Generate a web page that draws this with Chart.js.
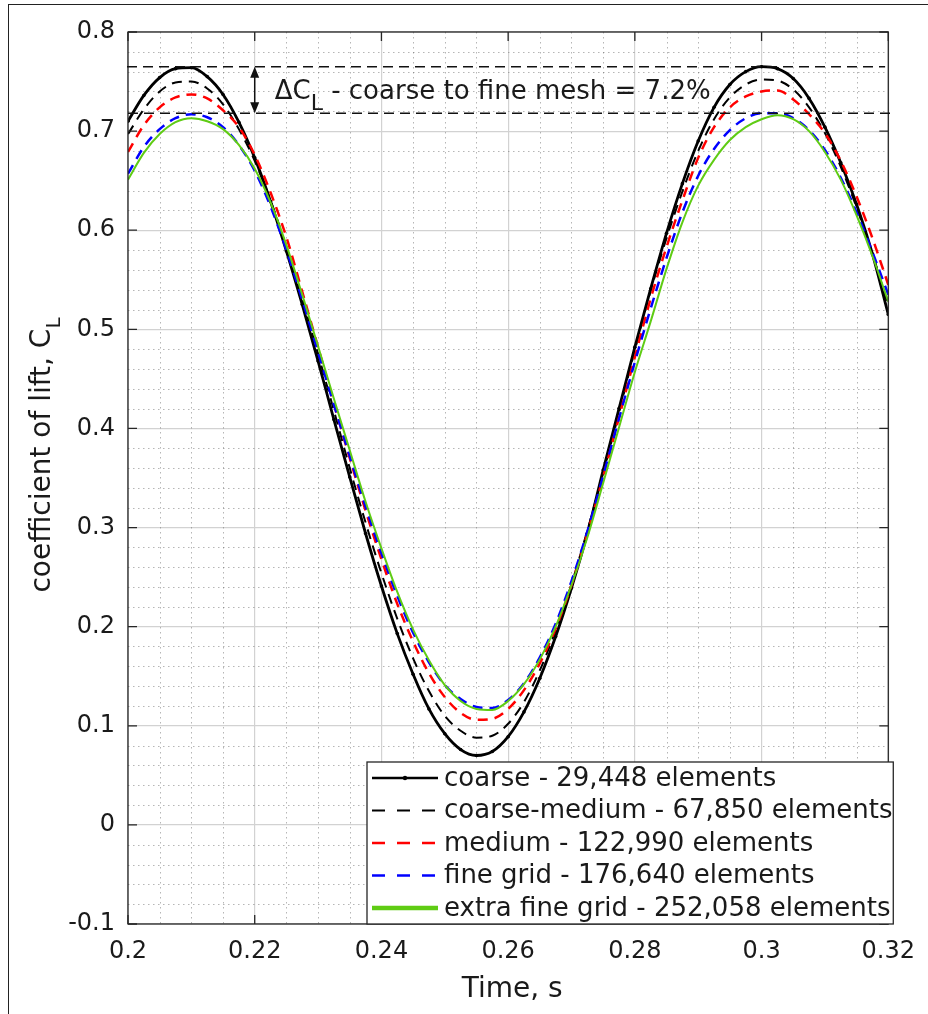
<!DOCTYPE html>
<html>
<head>
<meta charset="utf-8">
<script src="https://cdn.jsdelivr.net/npm/chart.js@4.4.0/dist/chart.umd.min.js"></script>
<style>
html,body{margin:0;padding:0;background:#fff;}
#wrap{position:relative;width:928px;height:1014px;overflow:hidden;background:#fff;}
#frame{position:absolute;left:8px;top:4px;width:1000px;height:1100px;border-left:1.5px solid #222;border-top:1.5px solid #222;box-sizing:border-box;pointer-events:none;}
canvas{position:absolute;left:0;top:0;}
</style>
</head>
<body>
<div id="wrap"><canvas id="c" width="928" height="1014"></canvas><div id="frame"></div></div>
<script>
// ---- data ----
const time = [0.2,0.2025,0.205,0.2075,0.21,0.2125,0.215,0.2175,0.22,0.2225,0.225,0.2275,0.23,0.2325,0.235,0.2375,0.24,0.2425,0.245,0.2475,0.25,0.2525,0.255,0.2575,0.26,0.2625,0.265,0.2675,0.27,0.2725,0.275,0.2775,0.28,0.2825,0.285,0.2875,0.29,0.2925,0.295,0.2975,0.3,0.3025,0.305,0.3075,0.31,0.3125,0.315,0.3175,0.32];
const coarse = [0.710,0.736,0.754,0.763,0.764,0.755,0.737,0.709,0.673,0.629,0.579,0.525,0.468,0.409,0.351,0.294,0.241,0.193,0.152,0.117,0.092,0.076,0.070,0.074,0.089,0.114,0.148,0.190,0.239,0.294,0.358,0.420,0.482,0.541,0.597,0.647,0.690,0.724,0.747,0.760,0.765,0.763,0.753,0.733,0.704,0.668,0.626,0.576,0.515];
const coarseMedium = [0.697,0.722,0.740,0.749,0.750,0.743,0.727,0.702,0.670,0.630,0.583,0.531,0.475,0.418,0.360,0.305,0.254,0.208,0.168,0.135,0.110,0.095,0.088,0.090,0.102,0.124,0.156,0.196,0.243,0.297,0.355,0.416,0.479,0.539,0.592,0.639,0.680,0.712,0.734,0.747,0.752,0.751,0.742,0.724,0.698,0.664,0.623,0.576,0.524];
const medium = [0.679,0.706,0.724,0.734,0.737,0.733,0.721,0.704,0.676,0.638,0.593,0.538,0.482,0.425,0.370,0.317,0.268,0.223,0.185,0.153,0.129,0.113,0.106,0.107,0.117,0.136,0.163,0.198,0.242,0.294,0.351,0.411,0.472,0.531,0.583,0.630,0.673,0.704,0.724,0.735,0.740,0.741,0.732,0.717,0.698,0.670,0.634,0.592,0.545];
const fine = [0.657,0.684,0.702,0.713,0.717,0.714,0.704,0.686,0.660,0.624,0.580,0.530,0.477,0.424,0.372,0.321,0.274,0.231,0.194,0.164,0.141,0.127,0.119,0.118,0.126,0.143,0.169,0.203,0.246,0.296,0.352,0.410,0.467,0.521,0.572,0.618,0.655,0.682,0.701,0.713,0.718,0.718,0.713,0.701,0.681,0.653,0.618,0.578,0.535];
const extraFine = [0.651,0.678,0.697,0.709,0.713,0.710,0.702,0.686,0.662,0.628,0.585,0.535,0.483,0.430,0.378,0.326,0.279,0.235,0.197,0.166,0.141,0.125,0.117,0.116,0.125,0.142,0.167,0.200,0.242,0.290,0.345,0.401,0.457,0.508,0.561,0.608,0.645,0.671,0.691,0.704,0.712,0.716,0.712,0.700,0.679,0.651,0.615,0.574,0.528];
const seriesNames = ["coarse - 29,448 elements","coarse-medium - 67,850 elements","medium - 122,990 elements","fine grid - 176,640 elements","extra fine grid - 252,058 elements"];
const xTicks = [0.2,0.22,0.24,0.26,0.28,0.3,0.32];
const yTicks = [-0.1,0,0.1,0.2,0.3,0.4,0.5,0.6,0.7,0.8];
const refLevels = [0.765,0.718];     // dashed delta lines
const arrowTime = 0.22;
const noteText = " - coarse to fine mesh = 7.2%";
const xTitle = "Time, s";
const yTitle = "coefficient of lift, C";

const FONT = "'DejaVu Sans', 'Liberation Sans', sans-serif";
const pts = arr => time.map((t,i)=>({x:t,y:arr[i]}));

const styles = [
  {color:'#000000', width:2.8, dash:[], legDash:[], legWidth:2.5, marker:true},
  {color:'#000000', width:2, dash:[10,7], legDash:[13,12], legWidth:2, marker:false},
  {color:'#ff0000', width:2.5, dash:[10,7], legDash:[13,12], legWidth:2.5, marker:false},
  {color:'#0000ff', width:2.5, dash:[10,7], legDash:[13,12], legWidth:2.5, marker:false},
  {color:'#5fcc14', width:2, dash:[], legDash:[], legWidth:4.5, marker:false}
];
const seriesData = [coarse, coarseMedium, medium, fine, extraFine];

const datasets = seriesData.map((arr,i)=>({
  label: seriesNames[i],
  data: pts(arr),
  borderColor: styles[i].color,
  backgroundColor: styles[i].color,
  borderWidth: styles[i].width,
  borderDash: styles[i].dash,
  pointRadius: styles[i].marker ? 1.8 : 0,
  pointBorderWidth: 0,
  pointBackgroundColor: styles[i].color,
  cubicInterpolationMode: 'monotone',
  fill: false,
  order: 5 - i
}));

function drawSubText(ctx, x, y, main, sub, size, subSize, subDrop){
  ctx.font = size + "px " + FONT;
  ctx.fillText(main, x, y);
  const w = ctx.measureText(main).width;
  ctx.font = subSize + "px " + FONT;
  ctx.fillText(sub, x + w, y + subDrop);
  return w + ctx.measureText(sub).width;
}

const deco = {
  id: 'deco',
  beforeDatasetsDraw(chart){
    const {ctx, chartArea:a, scales:{x, y}} = chart;
    ctx.save();
    ctx.beginPath(); ctx.rect(a.left, a.top, a.right-a.left, a.bottom-a.top); ctx.clip();
    ctx.strokeStyle = 'rgba(110,110,110,0.5)';
    ctx.lineWidth = 1;
    ctx.setLineDash([1.5,3.5]);
    for (let k=1; k<24; k++){
      if (k%4===0) continue;
      const px = Math.round(x.getPixelForValue(0.2 + k*0.005)) + 0.5;
      ctx.beginPath(); ctx.moveTo(px, a.top); ctx.lineTo(px, a.bottom); ctx.stroke();
    }
    for (let k=1; k<45; k++){
      if (k%5===0) continue;
      const py = Math.round(y.getPixelForValue(-0.1 + k*0.02)) + 0.5;
      ctx.beginPath(); ctx.moveTo(a.left, py); ctx.lineTo(a.right, py); ctx.stroke();
    }
    ctx.restore();
  },
  afterDatasetsDraw(chart){
    const {ctx, chartArea:a, scales:{x, y}} = chart;
    ctx.save();
    // axes box
    ctx.setLineDash([]);
    ctx.strokeStyle = '#262626';
    ctx.lineWidth = 1.3;
    ctx.strokeRect(a.left, a.top, a.right-a.left, a.bottom-a.top);
    // inward ticks
    ctx.beginPath();
    xTicks.forEach(v=>{
      const px = x.getPixelForValue(v);
      ctx.moveTo(px, a.bottom); ctx.lineTo(px, a.bottom-9);
      ctx.moveTo(px, a.top); ctx.lineTo(px, a.top+9);
    });
    yTicks.forEach(v=>{
      const py = y.getPixelForValue(v);
      ctx.moveTo(a.left, py); ctx.lineTo(a.left+9, py);
      ctx.moveTo(a.right, py); ctx.lineTo(a.right-9, py);
    });
    ctx.stroke();
    // dashed reference lines
    ctx.strokeStyle = '#111';
    ctx.lineWidth = 1.5;
    ctx.setLineDash([10,6]);
    const yTop = y.getPixelForValue(refLevels[0]);
    const yBot = y.getPixelForValue(refLevels[1]);
    ctx.beginPath();
    ctx.moveTo(x.getPixelForValue(0.2)-1, yTop); ctx.lineTo(x.getPixelForValue(0.3195), yTop);
    ctx.moveTo(x.getPixelForValue(0.2), yBot); ctx.lineTo(x.getPixelForValue(0.3212), yBot);
    ctx.stroke();
    // double arrow
    ctx.setLineDash([]);
    const ax = x.getPixelForValue(arrowTime);
    ctx.lineWidth = 1.5;
    ctx.beginPath(); ctx.moveTo(ax, yTop+6); ctx.lineTo(ax, yBot-6); ctx.stroke();
    ctx.fillStyle = '#111';
    ctx.beginPath(); ctx.moveTo(ax, yTop); ctx.lineTo(ax-4.5, yTop+11); ctx.lineTo(ax+4.5, yTop+11); ctx.closePath(); ctx.fill();
    ctx.beginPath(); ctx.moveTo(ax, yBot); ctx.lineTo(ax-4.5, yBot-11); ctx.lineTo(ax+4.5, yBot-11); ctx.closePath(); ctx.fill();
    // annotation text
    ctx.fillStyle = '#1a1a1a';
    ctx.textBaseline = 'alphabetic';
    ctx.textAlign = 'left';
    const tx = ax + 20, ty = (yTop + yBot)/2 + 9;
    const w = drawSubText(ctx, tx, ty, "\u0394C", "L", 26, 22, 11);
    ctx.font = "26px " + FONT;
    ctx.fillText(noteText, tx + w, ty);
    ctx.restore();
  },
  afterDraw(chart){
    const {ctx, chartArea:a} = chart;
    ctx.save();
    // legend box
    const lx0 = 367, lx1 = a.right + 5, ly1 = a.bottom, ly0 = a.bottom - 162;
    ctx.fillStyle = '#ffffff';
    ctx.fillRect(lx0, ly0, lx1-lx0, ly1-ly0);
    ctx.strokeStyle = '#262626';
    ctx.lineWidth = 1.3;
    ctx.setLineDash([]);
    ctx.strokeRect(lx0, ly0, lx1-lx0, ly1-ly0);
    chart.data.datasets.forEach((ds, i)=>{
      const cy = ly0 + 16 + i*32.5;
      const st = styles[i];
      ctx.strokeStyle = st.color;
      ctx.lineWidth = st.legWidth;
      ctx.setLineDash(st.legDash);
      ctx.beginPath(); ctx.moveTo(lx0+5, cy); ctx.lineTo(lx0+71, cy); ctx.stroke();
      if (st.marker){
        ctx.fillStyle = st.color;
        ctx.beginPath(); ctx.arc(lx0+38, cy, 2.2, 0, Math.PI*2); ctx.fill();
      }
      ctx.setLineDash([]);
      ctx.fillStyle = '#1a1a1a';
      ctx.font = "26px " + FONT;
      ctx.textBaseline = 'middle';
      ctx.textAlign = 'left';
      ctx.fillText(ds.label, lx0+77, cy+1);
    });
    // x title
    ctx.fillStyle = '#1a1a1a';
    ctx.font = "28px " + FONT;
    ctx.textAlign = 'center';
    ctx.textBaseline = 'alphabetic';
    ctx.fillText(xTitle, (a.left+a.right)/2 + 4, a.bottom + 73);
    // y title (rotated)
    ctx.translate(50, 455);
    ctx.rotate(-Math.PI/2);
    ctx.font = "28px " + FONT;
    const mw = ctx.measureText(yTitle).width;
    ctx.font = "20px " + FONT;
    const sw = ctx.measureText("L").width;
    ctx.textAlign = 'left';
    drawSubText(ctx, -(mw+sw)/2, 0, yTitle, "L", 28, 20, 10);
    ctx.restore();
  }
};

const fmt = v => String(Math.round(v*1000)/1000);

new Chart(document.getElementById('c'), {
  type: 'line',
  data: { datasets },
  options: {
    responsive: false,
    animation: false,
    devicePixelRatio: 1,
    layout: { padding: { left: 0, right: 35, top: 32, bottom: 0 } },
    plugins: { legend: { display: false }, tooltip: { enabled: false } },
    scales: {
      x: {
        type: 'linear', min: 0.2, max: 0.32,
        afterBuildTicks: s => { s.ticks = xTicks.map(v=>({value:v})); },
        afterFit: s => { s.height = 90; },
        grid: { color: '#d2d2d2', lineWidth: 1.2, drawTicks: false },
        border: { display: false },
        ticks: { font: { family: FONT, size: 24 }, color: '#1a1a1a', padding: 13, maxRotation: 0, autoSkip: false, callback: fmt }
      },
      y: {
        type: 'linear', min: -0.1, max: 0.8,
        afterBuildTicks: s => { s.ticks = yTicks.map(v=>({value:v})); },
        afterFit: s => { s.width = 128; },
        grid: { color: '#d2d2d2', lineWidth: 1.2, drawTicks: false },
        border: { display: false },
        ticks: { font: { family: FONT, size: 24 }, color: '#1a1a1a', padding: 13, autoSkip: false, callback: fmt }
      }
    }
  },
  plugins: [deco]
});
</script>
</body>
</html>
